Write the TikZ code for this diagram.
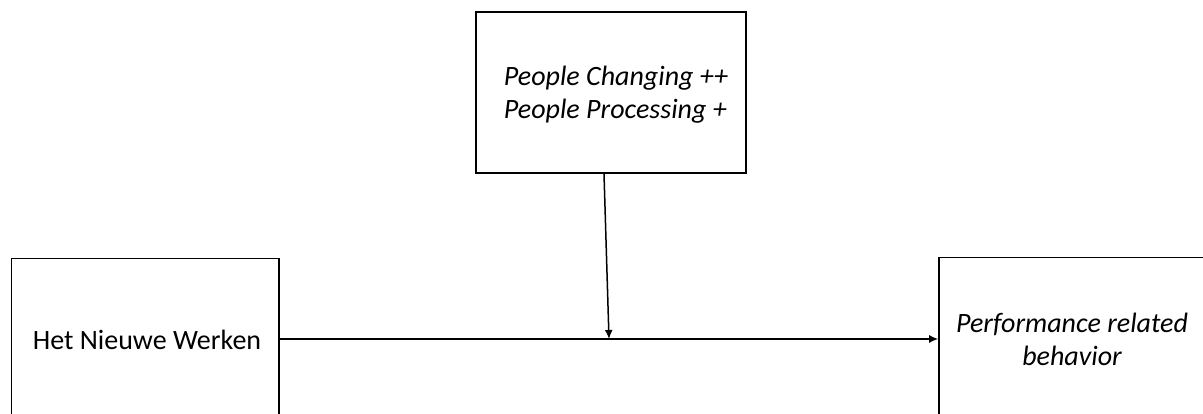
\documentclass[tikz,border=0pt]{standalone}
\usepackage{fontspec}
\setmainfont{Carlito}
\usetikzlibrary{arrows.meta}
\begin{document}
\begin{tikzpicture}[x=1pt,y=1pt,
  box/.style={draw=black,line width=1.6pt,minimum width=#1,minimum height=161pt,inner sep=0pt},
  label/.style={font=\fontsize{28}{33}\selectfont},
  link/.style={line width=1.5pt,-{Latex[length=9pt,width=8pt]}}]
\clip (0,0) rectangle (1203,414);
\useasboundingbox (0,0) rectangle (1203,414);
% moderator box
\node[box=270pt] (mod) at (611,321.5) {};
\node[label,align=left] (modtxt) at (616,319) {\itshape People Changing ++\\\itshape People Processing +};
% predictor and outcome boxes
\node[box=267.5pt,minimum height=161pt] (hnw) at (145.25,75) {};
\node[label] (hnwtxt) at (147,74) {Het Nieuwe Werken};
\node[box=266pt,minimum height=161pt] (prb) at (1072,76) {};
\node[label,align=center] (prbtxt) at (1072,75) {\itshape Performance related\\\itshape behavior};
% connectors
\coordinate (join) at (609,75);
\draw[link] (hnw.east |- 0,75) -- (prb.west |- 0,75);
\draw[link] ([xshift=-7pt]mod.south) -- (join);
\end{tikzpicture}
\end{document}
